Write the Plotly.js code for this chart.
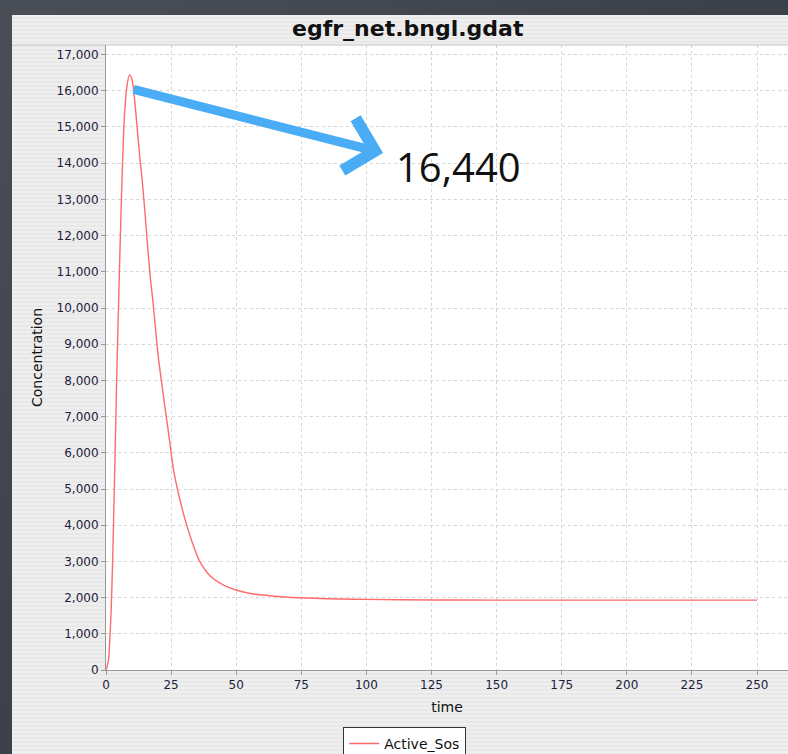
<!DOCTYPE html>
<html><head><meta charset="utf-8">
<script src="https://cdn.plot.ly/plotly-3.0.1.min.js"></script>
<style>
html,body{margin:0;padding:0;width:788px;height:754px;overflow:hidden;
background:linear-gradient(135deg,#4a4f57 0%,#3c4149 50%,#474c54 100%);}
#panel{position:absolute;left:12px;top:15px;width:776px;height:739px;
background:repeating-linear-gradient(180deg,#efefef 0px,#efefef 2px,#e8e8e8 2px,#e8e8e8 4px);}
#chart{position:absolute;left:0;top:0;width:776px;height:739px;}
</style></head>
<body><div id="panel"><div id="chart"></div></div>
<script>
const time = [0,0.5,1,1.5,2,2.5,3,3.5,4,5,6,7,8,9,10,11,12,13,14,15,16,17,18,20,22,24,26,28,30,33,36,40,45,50,55,60,70,80,90,100,125,150,175,200,225,250];
const activeSos = [0,120,300,900,1700,2900,4400,6000,7700,10600,13200,15200,16100,16440,16300,15750,14950,14150,13450,12600,11700,10850,10200,8700,7600,6550,5500,4820,4250,3550,3000,2600,2350,2210,2120,2070,2010,1980,1960,1950,1935,1930,1930,1930,1930,1930];
const peakLabel = '16,440';
const xTicks = [0,25,50,75,100,125,150,175,200,225,250];
const yTicks = [0,1000,2000,3000,4000,5000,6000,7000,8000,9000,10000,11000,12000,13000,14000,15000,16000,17000];

const tickFont = {family:'DejaVu Sans', size:12, color:'#1c1c3c'};
const layout = {
  width:776, height:739,
  margin:{l:94, r:0, t:30, b:84, pad:0, autoexpand:false},
  paper_bgcolor:'rgba(0,0,0,0)',
  plot_bgcolor:'#ffffff',
  title:{text:'<b>egfr_net.bngl.gdat</b>', font:{family:'DejaVu Sans', size:22, color:'#111111'},
         xref:'container', x:0.51, xanchor:'center', yref:'container', y:0.982, yanchor:'middle'},
  xaxis:{range:[0,261.9], tickvals:xTicks, ticks:'outside', ticklen:4, tickcolor:'#999999',
         showline:true, linecolor:'#999999', linewidth:1, mirror:false, zeroline:false,
         showgrid:true, gridcolor:'#d6d6d6', griddash:'3px,3px', gridwidth:1,
         tickfont:tickFont, automargin:false,
         title:{text:'time', font:{family:'DejaVu Sans', size:14, color:'#111111'}, standoff:10}},
  yaxis:{range:[0,17265], tickvals:yTicks, tickformat:',d', ticks:'outside', ticklen:4, tickcolor:'#999999',
         showline:true, linecolor:'#999999', linewidth:1, zeroline:false,
         showgrid:true, gridcolor:'#d6d6d6', griddash:'3px,3px', gridwidth:1,
         tickfont:tickFont, automargin:false,
         title:{text:'Concentration', font:{family:'DejaVu Sans', size:14, color:'#111111'}, standoff:10}},
  showlegend:true,
  legend:{orientation:'h', x:0.438, xanchor:'center', y:-0.091, yanchor:'top',
          bgcolor:'#ffffff', bordercolor:'#333333', borderwidth:1,
          font:{family:'DejaVu Sans', size:14, color:'#111111'}},
  shapes:[{type:'line', xref:'paper', yref:'paper', x0:-0.14, x1:1, y0:1, y1:1,
           line:{color:'#c4c4c4', width:1}}],
  annotations:[
    {x:106.4, y:14280, ax:10, ay:16050, axref:'x', ayref:'y', xref:'x', yref:'y',
     text:'', showarrow:true, arrowhead:4, arrowsize:1.15, arrowwidth:9, arrowcolor:'#4aacf5'},
    {x:135.2, y:13900, xref:'x', yref:'y', text:peakLabel, showarrow:false,
     font:{family:'Open Sans', size:40, color:'#111111'}}
  ]
};
const data = [{x:time, y:activeSos, type:'scatter', mode:'lines', name:'Active_Sos',
               line:{color:'#ff6a6a', width:1.4, shape:'spline', smoothing:0.7}}];
Plotly.newPlot('chart', data, layout, {displayModeBar:false, staticPlot:true});
</script></body></html>
